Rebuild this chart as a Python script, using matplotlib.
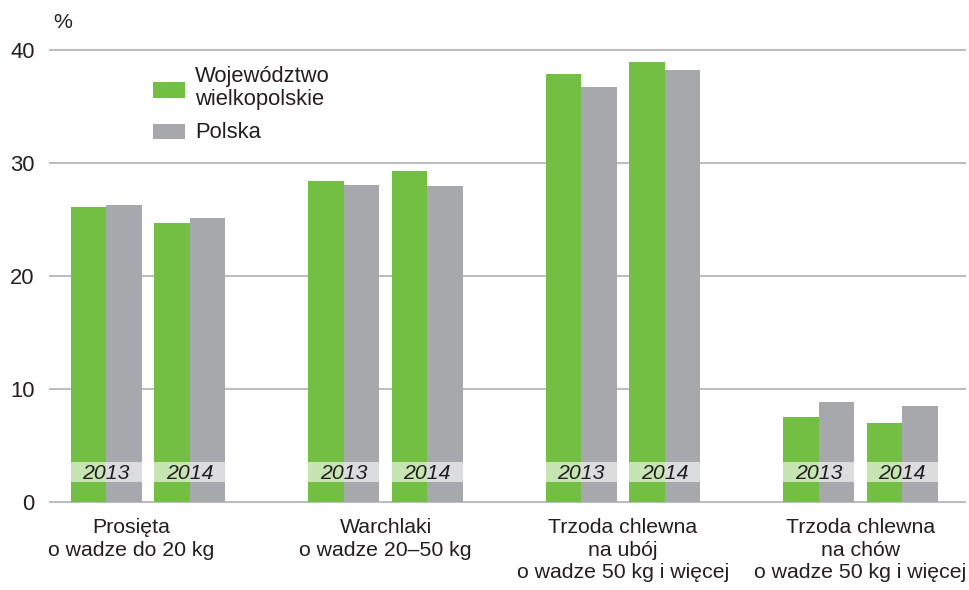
import matplotlib
matplotlib.use("Agg")
import matplotlib.pyplot as plt
from matplotlib.patches import Rectangle
import numpy as np

categories = ["Prosięta\no wadze do 20 kg",
              "Warchlaki\no wadze 20–50 kg",
              "Trzoda chlewna\nna ubój\no wadze 50 kg i więcej",
              "Trzoda chlewna\nna chów\no wadze 50 kg i więcej"]
years = ["2013", "2014"]
wlkp_2013 = [26.1, 28.4, 37.9, 7.5]
wlkp_2014 = [24.7, 29.3, 38.9, 7.0]
pl_2013 = [26.3, 28.05, 36.7, 8.85]
pl_2014 = [25.1, 28.0, 38.2, 8.5]
series_names = ["Województwo\nwielkopolskie", "Polska"]
yticks = [0, 10, 20, 30, 40]

GREEN = "#72bf44"
GRAY = "#a7a8ab"
TXT = "#231f20"
FS = 15.3

plt.rcParams['font.family'] = ['Liberation Sans', 'DejaVu Sans']

fig = plt.figure(figsize=(9.7, 5.9), dpi=100)
ax = fig.add_axes([50/970, (590-502)/590, (965-50)/970, (502-50)/590])

x = np.arange(len(categories))
w = 0.1495
off = 0.176
data = {"2013": (wlkp_2013, pl_2013), "2014": (wlkp_2014, pl_2014)}
for k, yr in enumerate(years):
    g, p = data[yr]
    c = x + (-off if k == 0 else off)
    ax.bar(c - w/2, g, width=w, color=GREEN, zorder=2)
    ax.bar(c + w/2, p, width=w, color=GRAY, zorder=2)
    for ci in c:
        ax.add_patch(Rectangle((ci - w, 1.77), 2*w, 1.77, facecolor="white",
                               alpha=0.6, edgecolor="none", zorder=3))
        ax.text(ci, 2.55, yr, ha="center", va="center", fontsize=FS,
                style="italic", color=TXT, zorder=4)

ax.set_xlim(-0.413, 3.44)
ax.set_ylim(0, 40)
ax.set_yticks(yticks)
ax.set_yticklabels([str(t) for t in yticks], fontsize=FS + 0.5, color=TXT)
ax.tick_params(axis='y', length=0, pad=11)
ax.set_xticks([])
for t in yticks:
    ax.axhline(t, color="#bdbdbf", lw=1.5, zorder=1, clip_on=False)
for s in ax.spines.values():
    s.set_visible(False)

label_shift = [-0.07, 0.0, 0.0, 0.0]
for i, cat in enumerate(categories):
    ax.text(x[i] + label_shift[i], -1.45, cat, ha="center", va="top", fontsize=FS,
            color=TXT, linespacing=1.22)

fig.text(63/970, 1 - 23/590, "%", ha="center", va="center", fontsize=FS, color=TXT)

# legend
fig.patches.append(Rectangle((153/970, 1 - 98/590), 32/970, 16/590, transform=fig.transFigure,
                             facecolor=GREEN, edgecolor="none"))
fig.patches.append(Rectangle((153/970, 1 - 139/590), 32/970, 15/590, transform=fig.transFigure,
                             facecolor=GRAY, edgecolor="none"))
fig.text(195/970, 1 - 88/590, series_names[0], ha="left", va="center", fontsize=FS + 0.5,
         color=TXT, linespacing=1.15)
fig.text(195/970, 1 - 132/590, series_names[1], ha="left", va="center", fontsize=FS + 0.5,
         color=TXT)

fig.savefig("out.png", dpi=100)
